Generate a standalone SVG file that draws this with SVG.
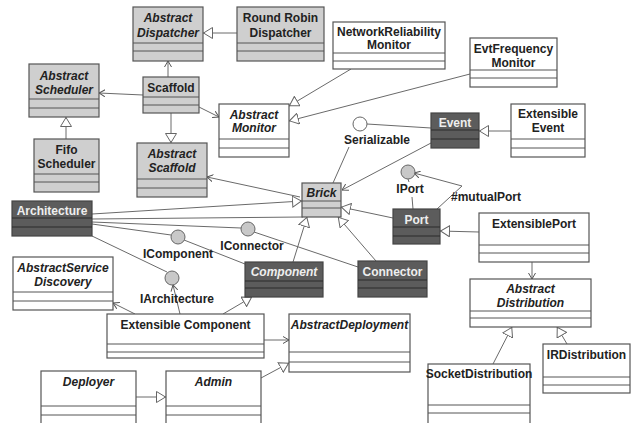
<svg xmlns="http://www.w3.org/2000/svg" width="632" height="423" viewBox="0 0 632 423">
<style>
.t{font-family:"Liberation Sans",Arial,sans-serif;font-weight:bold;font-size:12px;text-anchor:middle;fill:#222}
.i{font-style:italic}
.w{fill:#eeeeee}
.g{fill:#cfcfcf;stroke:#555;stroke-width:1.2}
.d{fill:#5c5c5c;stroke:#444;stroke-width:1.2}
.b{fill:#fff;stroke:#555;stroke-width:1.2}
.s{stroke:#555;stroke-width:1;fill:none}
.sd{stroke:#2a2a2a;stroke-width:1;fill:none}
.c{stroke:#6a6a6a;stroke-width:1;fill:none}
.ci{fill:#c8c8c8;stroke:#666;stroke-width:1}
.cw{fill:#fff;stroke:#666;stroke-width:1}
.tri{marker-end:url(#tri)}
.arr{marker-end:url(#arr)}
</style>
<defs>
<marker id="tri" viewBox="0 0 10 12" markerWidth="10" markerHeight="12" refX="10" refY="6" orient="auto" markerUnits="userSpaceOnUse">
<path d="M0.5,0.5 L9.5,6 L0.5,11.5 Z" fill="#fff" stroke="#666" stroke-width="1"/>
</marker>
<marker id="arr" viewBox="0 0 6 8" markerWidth="6" markerHeight="8" refX="6" refY="4" orient="auto" markerUnits="userSpaceOnUse">
<path d="M0,0.5 L6,4 L0,7.5" fill="none" stroke="#555" stroke-width="1"/>
</marker>
</defs>
<rect width="632" height="423" fill="#fff"/>

<g id="connectors">
<line class="c tri" x1="237" y1="33" x2="203" y2="33"/>
<line class="c tri" x1="66" y1="139" x2="66" y2="117"/>
<line class="c arr" x1="168" y1="77" x2="168" y2="61"/>
<line class="c arr" x1="143" y1="95" x2="99" y2="93"/>
<line class="c arr" x1="199" y1="107" x2="219" y2="117"/>
<line class="c tri" x1="171" y1="113" x2="171" y2="143"/>
<line class="c tri" x1="351" y1="69" x2="289" y2="106"/>
<line class="c tri" x1="470" y1="74" x2="289" y2="121"/>
<line class="c" x1="431" y1="128" x2="367" y2="124"/>
<line class="c tri" x1="511" y1="131" x2="479" y2="131"/>
<line class="c" x1="333" y1="183" x2="349" y2="147"/>
<line class="c arr" x1="431" y1="143" x2="342" y2="190"/>
<line class="c arr" x1="300" y1="197" x2="207" y2="177"/>
<line class="c tri" x1="92" y1="214" x2="302" y2="201"/>
<line class="c" x1="92" y1="219" x2="303" y2="217"/>
<line class="c" x1="92" y1="222" x2="241" y2="228"/>
<line class="c" x1="92" y1="224" x2="171" y2="235"/>
<line class="c" x1="92" y1="236" x2="167" y2="272"/>
<line class="c" x1="184" y1="240" x2="245" y2="264"/>
<line class="c" x1="254" y1="232" x2="358" y2="267"/>
<line class="c tri" x1="293" y1="262" x2="307" y2="217"/>
<line class="c tri" x1="376" y1="261" x2="338" y2="217"/>
<line class="c tri" x1="393" y1="218" x2="341" y2="207"/>
<line class="c" x1="413" y1="209" x2="412" y2="197"/>
<line class="c" x1="408" y1="179" x2="409" y2="182"/>
<polyline class="c arr" points="437,209 462,186 414,173"/>
<line class="c tri" x1="479" y1="232" x2="440" y2="231"/>
<line class="c arr" x1="532" y1="262" x2="532" y2="279"/>
<line class="c tri" x1="493" y1="364" x2="512" y2="327"/>
<line class="c tri" x1="567" y1="344" x2="557" y2="327"/>
<line class="c arr" x1="135" y1="314" x2="113" y2="303"/>
<line class="c arr" x1="180" y1="314" x2="173" y2="285"/>
<line class="c tri" x1="223" y1="314" x2="252" y2="297"/>
<line class="c arr" x1="264" y1="340" x2="289" y2="340"/>
<line class="c tri" x1="136" y1="397" x2="166" y2="397"/>
<line class="c tri" x1="261" y1="378" x2="289" y2="363"/>
</g>

<g id="abstract-dispatcher"><rect class="g" x="133" y="7" width="70" height="54"/><path class="s" d="M133,43H203M133,51H203"/><text class="t i" x="168" y="22">Abstract</text><text class="t i" x="168" y="37">Dispatcher</text></g>
<g id="round-robin-dispatcher"><rect class="g" x="237" y="7" width="87" height="54"/><path class="s" d="M237,43H324M237,51H324"/><text class="t" x="280.5" y="22">Round Robin</text><text class="t" x="280.5" y="37">Dispatcher</text></g>
<g id="abstract-scheduler"><rect class="g" x="29" y="64" width="70" height="53"/><path class="s" d="M29,99H99M29,108H99"/><text class="t i" x="64" y="80">Abstract</text><text class="t i" x="64" y="94">Scheduler</text></g>
<g id="fifo-scheduler"><rect class="g" x="34" y="139" width="65" height="53"/><path class="s" d="M34,174H99M34,182H99"/><text class="t" x="66.5" y="154">Fifo</text><text class="t" x="66.5" y="168">Scheduler</text></g>
<g id="scaffold"><rect class="g" x="143" y="77" width="56" height="36"/><path class="s" d="M143,97H199M143,105H199"/><text class="t" x="171" y="92">Scaffold</text></g>
<g id="abstract-scaffold"><rect class="g" x="137" y="143" width="70" height="54"/><path class="s" d="M137,179H207M137,188H207"/><text class="t i" x="172" y="158">Abstract</text><text class="t i" x="172" y="172">Scaffold</text></g>
<g id="abstract-monitor"><rect class="b" x="219" y="104" width="70" height="53"/><path class="s" d="M219,139H289M219,148H289"/><text class="t i" x="254" y="119">Abstract</text><text class="t i" x="254" y="132">Monitor</text></g>
<g id="network-reliability-monitor"><rect class="b" x="333" y="22" width="112" height="47"/><path class="s" d="M333,53H445M333,61H445"/><text class="t" x="389" y="36">NetworkReliability</text><text class="t" x="389" y="49">Monitor</text></g>
<g id="evt-frequency-monitor"><rect class="b" x="470" y="38" width="87" height="49"/><path class="s" d="M470,70H557M470,78H557"/><text class="t" x="513.5" y="53">EvtFrequency</text><text class="t" x="513.5" y="67">Monitor</text></g>
<g id="event"><rect class="d" x="431" y="113" width="48" height="35"/><path class="sd" d="M431,130H479M431,139H479"/><text class="t w" x="455" y="127">Event</text></g>
<g id="extensible-event"><rect class="b" x="511" y="104" width="74" height="53"/><path class="s" d="M511,139H585M511,148H585"/><text class="t" x="548" y="118">Extensible</text><text class="t" x="548" y="132">Event</text></g>
<g id="brick"><rect class="g" x="302" y="183" width="39" height="34"/><path class="s" d="M302,201H341M302,208H341"/><text class="t i" x="321.5" y="197">Brick</text></g>
<g id="port"><rect class="d" x="393" y="209" width="47" height="35"/><path class="sd" d="M393,227H440M393,236H440"/><text class="t w" x="416.5" y="224">Port</text></g>
<g id="extensible-port"><rect class="b" x="479" y="213" width="110" height="49"/><path class="s" d="M479,245H589M479,253H589"/><text class="t" x="534" y="228">ExtensiblePort</text></g>
<g id="abstract-distribution"><rect class="b" x="470" y="279" width="121" height="48"/><path class="s" d="M470,311H591M470,318H591"/><text class="t i" x="530.5" y="293">Abstract</text><text class="t i" x="530.5" y="307">Distribution</text></g>
<g id="socket-distribution"><rect class="b" x="428" y="364" width="102" height="62"/><path class="s" d="M428,405H530M428,413H530"/><text class="t" x="479" y="378">SocketDistribution</text></g>
<g id="ir-distribution"><rect class="b" x="543" y="344" width="87" height="49"/><path class="s" d="M543,377H630M543,385H630"/><text class="t" x="586.5" y="359">IRDistribution</text></g>
<g id="connector"><rect class="d" x="358" y="261" width="69" height="36"/><path class="sd" d="M358,280H427M358,288H427"/><text class="t w" x="392.5" y="276">Connector</text></g>
<g id="component"><rect class="d" x="245" y="262" width="78" height="35"/><path class="sd" d="M245,281H323M245,288H323"/><text class="t w i" x="284" y="276">Component</text></g>
<g id="architecture"><rect class="d" x="12" y="201" width="80" height="35"/><path class="sd" d="M12,218H92M12,227H92"/><text class="t w" x="52" y="215">Architecture</text></g>
<g id="abstract-service-discovery"><rect class="b" x="13" y="257" width="100" height="53"/><path class="s" d="M13,292H113M13,301H113"/><text class="t i" x="63" y="272">AbstractService</text><text class="t i" x="63" y="286">Discovery</text></g>
<g id="extensible-component"><rect class="b" x="107" y="314" width="157" height="44"/><path class="s" d="M107,344H264M107,352H264"/><text class="t" x="185.5" y="329">Extensible Component</text></g>
<g id="abstract-deployment"><rect class="b" x="289" y="314" width="121" height="58"/><path class="s" d="M289,352H410M289,362H410"/><text class="t i" x="349.5" y="329">AbstractDeployment</text></g>
<g id="deployer"><rect class="b" x="41" y="371" width="95" height="60"/><path class="s" d="M41,406H136M41,415H136"/><text class="t i" x="88.5" y="386">Deployer</text></g>
<g id="admin"><rect class="b" x="166" y="371" width="95" height="60"/><path class="s" d="M166,406H261M166,415H261"/><text class="t i" x="213.5" y="386">Admin</text></g>

<g id="serializable"><circle class="cw" cx="360" cy="124" r="7"/><text class="t" x="377" y="144">Serializable</text></g>
<g id="iport"><circle class="ci" cx="408" cy="172" r="7"/><text class="t" x="410" y="193">IPort</text></g>
<g id="icomponent"><circle class="ci" cx="178" cy="237" r="7"/><text class="t" x="178" y="258">IComponent</text></g>
<g id="iconnector"><circle class="ci" cx="248" cy="229" r="7"/><text class="t" x="252" y="250">IConnector</text></g>
<g id="iarchitecture"><circle class="ci" cx="172" cy="278" r="7"/><text class="t" x="177" y="303">IArchitecture</text></g>
<g id="mutual-port-label"><text class="t" x="486" y="201">#mutualPort</text></g>
</svg>
